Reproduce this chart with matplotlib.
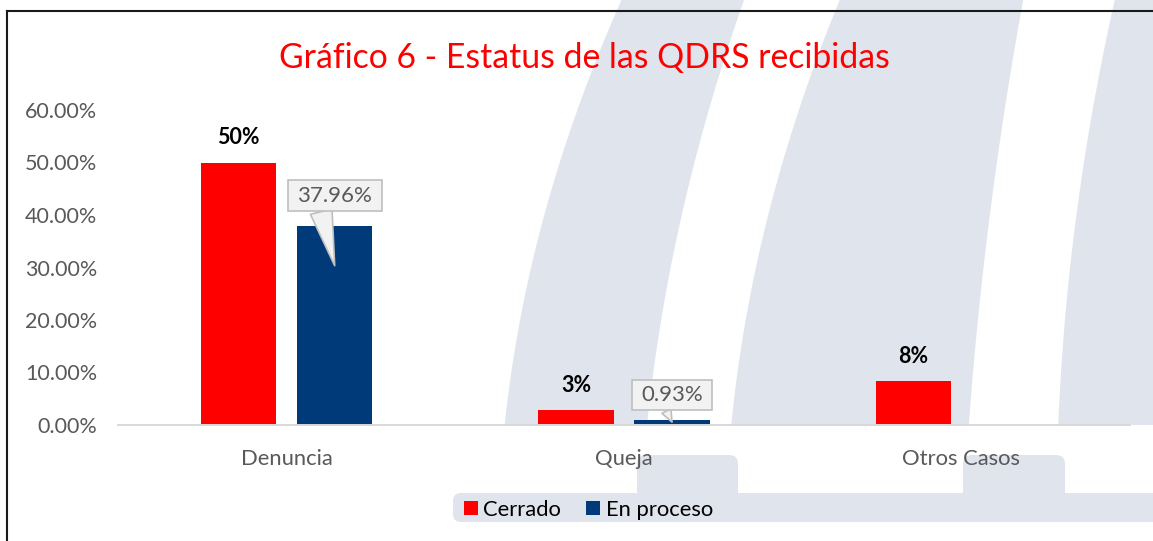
import numpy as np
import matplotlib
matplotlib.use('Agg')
import matplotlib.pyplot as plt
from matplotlib.patches import Polygon, FancyBboxPatch
from matplotlib.path import Path
from matplotlib.lines import Line2D
import matplotlib.transforms as mtransforms

# ---------------- data ----------------
title = 'Gráfico 6 - Estatus de las QDRS recibidas'
categories = ['Denuncia', 'Queja', 'Otros Casos']
series_names = ['Cerrado', 'En proceso']
cerrado = [50.0, 2.78, 8.33]
en_proceso = [37.96, 0.93, np.nan]
cerrado_labels = ['50%', '3%', '8%']
en_proceso_labels = ['37.96%', '0.93%', '']
y_ticks = [0, 10, 20, 30, 40, 50, 60]
y_tick_labels = [f'{v:.2f}%' for v in y_ticks]

# ---------------- figure ----------------
W, H = 1153, 541
plt.rcParams['font.family'] = ['Lato', 'DejaVu Sans']
fig = plt.figure(figsize=(W / 100, H / 100), dpi=100)
fig.patch.set_facecolor('white')


def fx(px):
    return px / W


def fy(py):
    return 1 - py / H


# ---------------- watermark (decorative background) ----------------
WM = '#E0E4ED'
bands = [
    ([(0, 620), (138, 572), (276, 525), (425, 506)], [(0, 744), (138, 701), (276, 669), (425, 647)]),
    ([(0, 840), (138, 789), (276, 755), (425, 731)], [(0, 1023), (138, 1001), (276, 982), (425, 969)]),
    ([(0, 1115), (138, 1087), (276, 1070), (425, 1058)], [(0, 1170), (425, 1170)]),
]
ys = np.linspace(-5, 425, 80)


def edge(pts):
    py = [p[0] for p in pts]
    px = [p[1] for p in pts]
    c = np.polyfit(py, px, min(2, len(pts) - 1))
    return np.polyval(c, ys)


for left, right in bands:
    xl = edge(left)
    xr = edge(right)
    verts = [(fx(a), fy(b)) for a, b in zip(xl, ys)] + \
            [(fx(a), fy(b)) for a, b in zip(xr[::-1], ys[::-1])]
    fig.add_artist(Polygon(verts, closed=True, transform=fig.transFigure,
                           fc=WM, ec='none', zorder=-10))

ident = mtransforms.IdentityTransform()
for x0, x1 in [(637, 738), (963, 1065)]:
    fig.add_artist(FancyBboxPatch((x0, H - 502), x1 - x0, 502 - 455,
                                  boxstyle='round,pad=0,rounding_size=9',
                                  transform=ident, fc=WM, ec='none', zorder=-10))
fig.add_artist(FancyBboxPatch((453, H - 522), 1170 - 453, 522 - 493,
                              boxstyle='round,pad=0,rounding_size=8',
                              transform=ident, fc=WM, ec='none', zorder=-10))

# ---------------- axes ----------------
ax = fig.add_axes([fx(118), fy(425), fx(1130) - fx(118), fy(110) - fy(425)])
ax.patch.set_visible(False)

x = np.arange(len(categories))
bw = 0.2226
off = 0.1424
RED = '#FF0000'
BLUE = '#003A78'
b1 = ax.bar(x - off, cerrado, bw, color=RED, zorder=3)
b2 = ax.bar(x + off, en_proceso, bw, color=BLUE, zorder=3)

ax.set_xlim(-0.5, len(categories) - 0.5)
ax.set_ylim(0, 60)
for s in ['top', 'right', 'left']:
    ax.spines[s].set_visible(False)
ax.spines['bottom'].set_color('#D9D9D9')
ax.spines['bottom'].set_linewidth(1.4)
ax.spines['bottom'].set_zorder(4)

ax.set_yticks(y_ticks, y_tick_labels)
ax.set_xticks(x, categories)
ax.tick_params(axis='y', length=0, pad=21 * 0.72, labelsize=15.5, labelcolor='#595959')
ax.tick_params(axis='x', length=0, pad=17.5, labelsize=15.8, labelcolor='#595959')

# data labels (Cerrado)
for xi, v, lab in zip(x - off, cerrado, cerrado_labels):
    ax.annotate(lab, xy=(xi, v), xytext=(0, 25 * 0.72), textcoords='offset points',
                ha='center', va='center', fontsize=15.5, fontweight='bold',
                color='black', zorder=6, annotation_clip=False)


# callouts (En proceso)
def callout_box(x0, y0, width, height, mutation_size):
    px = 0.43 * mutation_size
    py = 0.24 * mutation_size
    xa, ya = x0 - px, y0 - py
    xb, yb = x0 + width + px, y0 + height + py
    return Path([(xa, ya), (xb, ya), (xb, yb), (xa, yb), (xa, ya)], closed=True)


lift = [30, 25, 0]
drop = [40, 2, 0]
relx = [0.30, 0.36, 0.5]
tailw = [1.0, 0.45, 0.5]
for i, (xi, v, lab) in enumerate(zip(x + off, en_proceso, en_proceso_labels)):
    if not lab:
        continue
    tr = mtransforms.offset_copy(ax.transData, fig=fig, x=0, y=-drop[i], units='dots')
    ax.annotate(lab, xy=(xi, v), xycoords=tr,
                xytext=(0, (lift[i] + drop[i]) * 0.72), textcoords='offset points',
                ha='center', va='center', fontsize=16, color='#595959',
                bbox=dict(boxstyle=callout_box, fc='#F2F2F2', ec='#BFBFBF', lw=1.2),
                arrowprops=dict(arrowstyle=f'wedge,tail_width={tailw[i]}',
                                fc='#F2F2F2', ec='#BFBFBF', lw=1.2,
                                relpos=(relx[i], 0), shrinkA=0, shrinkB=0),
                zorder=6, annotation_clip=False)

# title
fig.text(fx(584), fy(68), title, ha='center', va='baseline', fontsize=24.3, color='#FF0000')

# legend
fig.legend([b1, b2], series_names, loc='center', bbox_to_anchor=(fx(588.5), fy(510)),
           ncol=2, frameon=False, fontsize=15.8, handlelength=0.62, handleheight=0.62,
           handletextpad=0.25, columnspacing=1.15, labelcolor='black')

# chart border (left and top)
fig.add_artist(Line2D([fx(7), fx(7)], [fy(11), 0], transform=fig.transFigure,
                      color='#1A1A1A', lw=1.5, zorder=20))
fig.add_artist(Line2D([fx(7), 1], [fy(11), fy(11)], transform=fig.transFigure,
                      color='#1A1A1A', lw=1.5, zorder=20))

fig.savefig('out.png', dpi=100)
